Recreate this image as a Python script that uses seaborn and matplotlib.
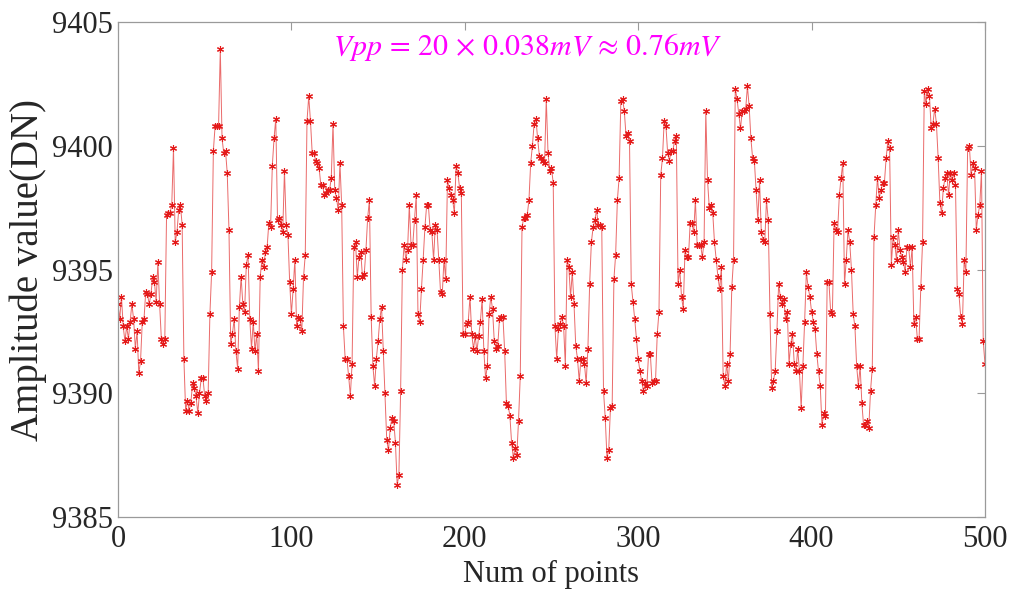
import numpy as np
import pandas as pd
import matplotlib
matplotlib.use("Agg")
import matplotlib.pyplot as plt
import seaborn as sns

# ---- data ----
seg_a = [9393.6, 9393.0, 9393.9, 9392.7, 9392.1, 9392.7, 9392.2, 9392.9, 9393.6, 9393.0,
         9391.8, 9392.5, 9390.8, 9391.3, 9392.9, 9393.0, 9394.1, 9394.0, 9393.6, 9394.0,
         9394.7, 9394.5, 9393.7, 9395.3, 9393.6, 9392.2, 9392.0, 9392.2, 9397.2, 9397.3,
         9397.3, 9397.6, 9399.9, 9396.1, 9396.5, 9397.4, 9397.6, 9396.8, 9391.4, 9389.3,
         9389.7, 9389.3, 9389.6, 9390.4, 9390.2, 9389.9, 9389.2, 9390.0, 9390.6]
seg_b = [9390.6, 9389.9, 9389.7, 9390.0, 9393.2, 9394.9, 9399.8, 9400.8, 9400.8, 9400.8,
         9403.9, 9400.3, 9399.7, 9399.8, 9398.9, 9396.6, 9392.0, 9392.4, 9393.0, 9391.7,
         9391.0, 9393.5, 9394.7, 9393.6, 9393.3, 9395.2, 9395.6, 9393.0, 9391.8, 9392.9,
         9391.7, 9392.4, 9390.9, 9394.7, 9395.4, 9395.1, 9395.7, 9395.9, 9396.9, 9396.7,
         9399.2, 9400.3, 9401.1, 9397.0, 9397.1, 9396.8, 9396.5, 9399.0, 9396.8]
seg_c = [9396.4, 9394.5, 9393.2, 9394.2, 9395.4, 9392.7, 9393.1, 9393.0, 9392.5, 9394.7,
         9395.6, 9401.0, 9402.0, 9401.0, 9399.7, 9399.7, 9399.4, 9399.3, 9399.1, 9398.4,
         9398.4, 9398.0, 9398.1, 9398.2, 9398.2, 9398.7, 9400.9, 9398.2, 9397.9, 9397.4,
         9399.3, 9397.6, 9392.7, 9391.4, 9391.4, 9390.7, 9389.9, 9391.2, 9395.9, 9396.1,
         9394.7, 9395.5, 9395.7, 9394.7, 9394.8, 9395.8, 9397.1, 9397.8, 9393.1, 9391.1,
         9390.3]
seg_d = [9391.4, 9392.1, 9393.0, 9393.5, 9391.7, 9390.0, 9388.1, 9387.7, 9388.6, 9389.0,
         9388.9, 9388.0, 9386.3, 9386.7, 9390.1, 9395.0, 9396.0, 9395.4, 9395.8, 9397.6,
         9396.0, 9396.0, 9397.0, 9398.0, 9393.2, 9392.9, 9394.2, 9395.4, 9396.7, 9397.6,
         9397.6, 9396.6, 9396.5, 9395.4, 9396.8, 9396.6, 9395.4, 9394.1, 9394.0, 9395.4,
         9394.6, 9398.6, 9398.3, 9398.0, 9397.8, 9397.3, 9399.2, 9398.9, 9398.3, 9398.1,
         9392.4]
seg_e = [9392.4, 9392.8, 9392.9, 9393.9, 9392.4, 9391.8, 9392.3, 9391.7, 9392.3, 9392.9,
         9393.8, 9391.7, 9390.6, 9391.1, 9393.2, 9393.9, 9393.4, 9392.1, 9391.8, 9391.9,
         9393.0, 9393.1, 9393.1, 9391.7, 9389.6, 9389.5, 9389.1, 9388.0, 9387.4, 9387.8,
         9387.5, 9388.9, 9390.7, 9396.7, 9397.1, 9397.1, 9397.2, 9397.8, 9399.3, 9400.0,
         9400.9, 9401.1, 9400.3, 9399.6, 9399.5, 9399.4, 9399.3, 9401.9, 9399.7, 9399.0]
seg_f = [9399.1, 9398.5, 9392.7, 9391.4, 9392.6, 9392.8, 9393.1, 9392.7, 9391.1, 9395.4,
         9395.1, 9393.9, 9394.9, 9393.6, 9391.9, 9391.4, 9390.5, 9391.4, 9391.4, 9391.2,
         9390.4, 9391.8, 9394.4, 9396.1, 9396.7, 9397.0, 9397.4, 9396.8, 9396.8, 9396.7,
         9390.1, 9389.0, 9387.4, 9387.7, 9389.4, 9389.5, 9394.6, 9395.6, 9397.8, 9398.7,
         9401.8, 9401.9, 9401.4, 9400.4, 9400.5, 9400.2, 9394.4, 9393.7, 9393.0, 9392.2,
         9391.4]
seg_g = [9390.9, 9390.5, 9390.1, 9390.4, 9390.3, 9391.6, 9391.6, 9390.4, 9390.5, 9390.5,
         9392.4, 9393.3, 9398.8, 9399.5, 9401.0, 9400.8, 9399.7, 9399.4, 9399.8, 9399.8,
         9400.2, 9400.4, 9394.4, 9395.0, 9393.9, 9393.4, 9395.8, 9395.5, 9395.5, 9396.9,
         9396.9, 9396.5, 9397.8, 9396.0, 9396.0, 9396.0, 9395.5, 9396.1, 9401.4, 9398.6,
         9397.5, 9397.6, 9397.3, 9396.1, 9395.4, 9394.7, 9394.2, 9395.1, 9390.7, 9390.3]
seg_h = [9391.2, 9390.5, 9391.6, 9394.3, 9395.4, 9402.3, 9401.9, 9401.3, 9400.7, 9401.4,
         9401.4, 9401.5, 9402.4, 9401.6, 9400.3, 9399.5, 9399.4, 9398.2, 9397.0, 9398.6,
         9396.5, 9396.2, 9396.1, 9397.8, 9397.0, 9393.2, 9390.2, 9390.5, 9390.9, 9392.5,
         9394.4, 9393.9, 9393.6, 9393.8, 9393.0, 9393.3, 9391.2, 9392.0, 9392.4, 9391.2,
         9390.9, 9391.8, 9390.9, 9389.4, 9391.1, 9392.9, 9394.9, 9394.3, 9393.9]
seg_i = [9393.3, 9392.9, 9392.6, 9391.6, 9390.9, 9390.3, 9388.7, 9389.2, 9389.1, 9394.5,
         9394.5, 9393.3, 9393.2, 9396.9, 9396.6, 9396.5, 9398.0, 9398.7, 9399.3, 9394.4,
         9395.4, 9396.6, 9396.1, 9395.0, 9393.2, 9392.7, 9391.1, 9390.3, 9391.1, 9389.6,
         9388.7, 9388.7, 9388.9, 9388.6, 9390.1, 9391.0, 9396.3, 9397.6, 9398.7, 9397.9,
         9398.2, 9398.5, 9398.5, 9399.5, 9400.2, 9399.9, 9395.2, 9396.3, 9396.0, 9395.4,
         9396.6]
seg_j = [9395.8, 9395.5, 9395.3, 9394.9, 9395.9, 9395.9, 9395.1, 9395.9, 9392.8, 9393.1,
         9392.2, 9392.2, 9394.3, 9396.1, 9402.2, 9401.7, 9402.3, 9402.0, 9400.7, 9400.9,
         9401.5, 9400.9, 9399.5, 9397.7, 9397.3, 9398.3, 9398.7, 9398.9, 9398.0, 9398.9,
         9398.6, 9398.9, 9398.4, 9394.2, 9394.0, 9393.1, 9392.8, 9395.4, 9394.9, 9399.9,
         9400.0, 9398.8, 9399.3, 9399.1, 9396.6, 9397.2, 9397.6, 9399.0, 9392.1, 9391.2]

amplitude = seg_a + seg_b + seg_c + seg_d + seg_e + seg_f + seg_g + seg_h + seg_i + seg_j
points = list(range(len(amplitude)))

x_ticks = [0, 100, 200, 300, 400, 500]
y_ticks = [9385, 9390, 9395, 9400, 9405]
x_label = "Num of points"
y_label = "Amplitude value(DN)"
note = r"$Vpp\,=\,20\,\times\,0.038mV\,\approx\,0.76mV$"

df = pd.DataFrame({"point": points, "amplitude": amplitude})

# ---- style ----
sns.set_style("white")
plt.rcParams["font.family"] = ["Liberation Serif", "DejaVu Serif"]
plt.rcParams["mathtext.fontset"] = "stix"

fig = plt.figure(figsize=(10.19, 5.89), dpi=100)
ax = fig.add_axes([0.1158, 0.1222, 0.8508, 0.8404])

sns.lineplot(data=df, x="point", y="amplitude", ax=ax, color="#ea6a6a",
             linewidth=0.7, marker=(6, 2, 0), markersize=5, markeredgewidth=0.8,
             markeredgecolor="#e41a1a", markerfacecolor="#e41a1a")

ax.set_xlim(0, 500)
ax.set_ylim(9385, 9405)
ax.set_xticks(x_ticks)
ax.set_yticks(y_ticks)
ax.tick_params(direction="in", length=6, width=0.8, color="#9a9a9a",
               labelsize=22, labelcolor="#262626", top=True, right=True)
ax.tick_params(axis="x", pad=6)
for s in ax.spines.values():
    s.set_visible(True)
    s.set_color("#9a9a9a")
    s.set_linewidth(0.9)

ax.set_xlabel(x_label, fontsize=22, color="#262626", labelpad=4)
ax.set_ylabel(y_label, fontsize=28, color="#262626", labelpad=4)

ax.text(236, 9404.0, note, color="#ff00ff", fontsize=21.5, ha="center", va="center")

fig.savefig("out.png", dpi=100)
